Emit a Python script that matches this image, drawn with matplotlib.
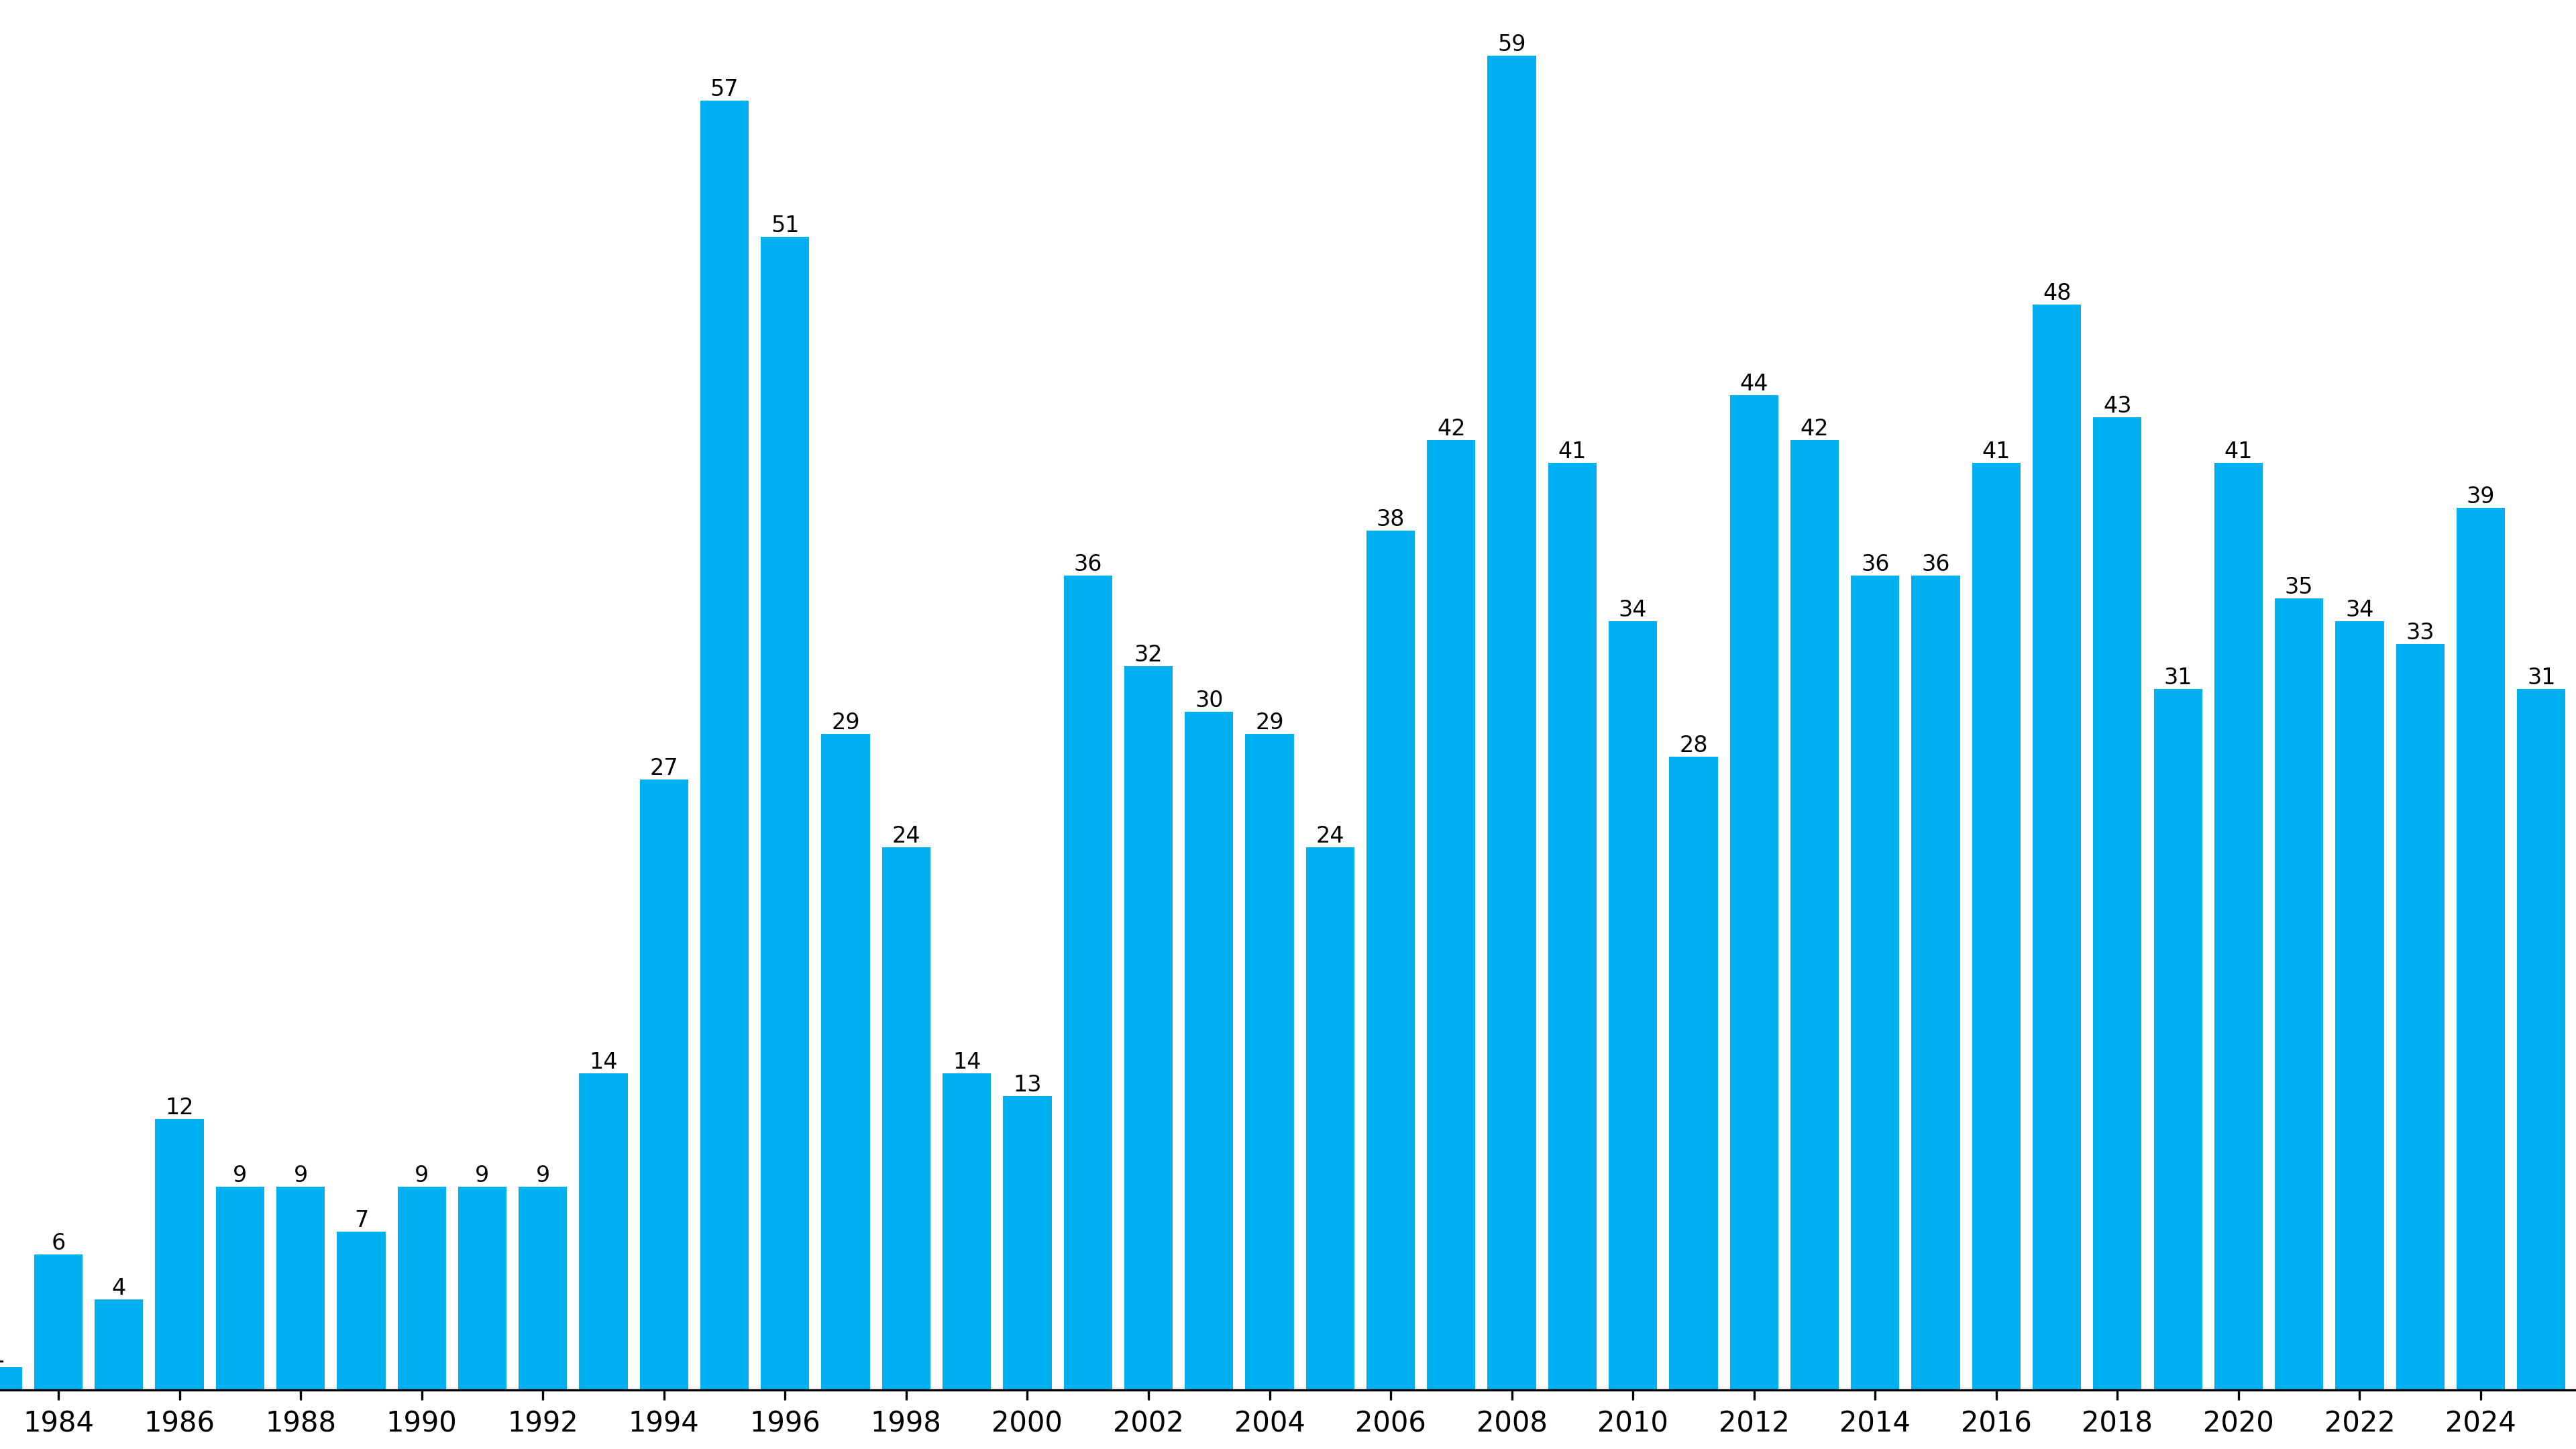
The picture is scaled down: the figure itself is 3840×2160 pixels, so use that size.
import matplotlib
matplotlib.use("Agg")
import matplotlib.pyplot as plt

years = list(range(1983, 2026))
counts = [1, 6, 4, 12, 9, 9, 7, 9, 9, 9, 14, 27, 57, 51, 29, 24, 14, 13, 36, 32,
          30, 29, 24, 38, 42, 59, 41, 34, 28, 44, 42, 36, 36, 41, 48, 43, 31, 41,
          35, 34, 33, 39, 31]
tick_years = list(range(1984, 2025, 2))

fig = plt.figure(figsize=(12.8, 7.2), dpi=300)
ax = fig.add_axes([0, 0.0407, 1, 0.9593])

ax.bar(years, counts, width=0.8, color="#00B0F0")
for x, v in zip(years, counts):
    ax.text(x, v, str(v), ha="center", va="bottom", fontsize=8)

ax.set_xlim(1983.036, 2025.573)
ax.set_ylim(0, 61.46)
ax.set_xticks(tick_years)
ax.set_xticklabels([str(y) for y in tick_years], fontsize=10)
ax.set_yticks([])
for s in ["left", "top", "right"]:
    ax.spines[s].set_visible(False)

fig.savefig("out.png", dpi=300)
